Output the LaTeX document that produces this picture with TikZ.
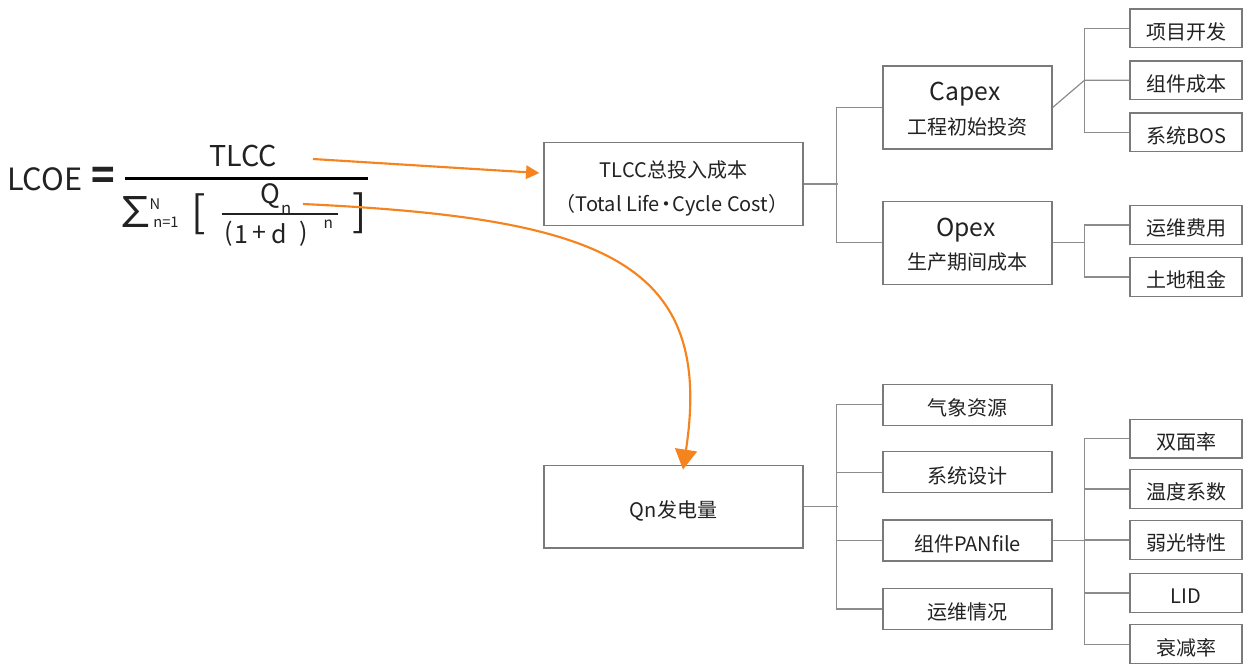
\documentclass[tikz,border=0pt]{standalone}
\usepackage{fontspec}
\setmainfont{Noto Sans CJK SC}
\usetikzlibrary{arrows.meta}
\definecolor{ink}{HTML}{222222}
\definecolor{boxline}{HTML}{7A7A7A}
\definecolor{wiregray}{HTML}{8C8C8C}
\definecolor{accent}{HTML}{F5841F}
\newcommand\fsz[1]{\fontsize{#1}{#1}\selectfont}
\begin{document}
\begin{tikzpicture}[x=0.75pt, y=-0.75pt,
  box/.style={draw=boxline, line width=0.9pt, inner sep=0pt, font=\fsz{15pt}, text=ink,
              text height=17.4pt, text depth=1pt},
  bigbox/.style={box, minimum width=194.25pt, minimum height=61.9pt},
  midbox/.style={box, minimum width=126.75pt, minimum height=62.25pt},
  lowbox/.style={box, minimum width=126.75pt, minimum height=30.75pt},
  leaf/.style={box, minimum width=84pt, minimum height=29pt},
  wire/.style={draw=wiregray, line width=0.9pt},
  lbl/.style={inner sep=0pt, anchor=base, text=ink},
  fm/.style={inner sep=0pt, anchor=base, text=ink},
  fmc/.style={inner sep=0pt, anchor=center, text=ink},
  flow/.style={draw=accent, line width=1.6pt},
]
\fill[white] (0,0) rectangle (1248,665);
\useasboundingbox (0,0) rectangle (1248,665);

% ---- formula ----
\node[fm, font=\fsz{23pt}] (lcoe) at (44.7,190) {LCOE};
\node[fmc, font=\fsz{29pt}\bfseries] (eq) at (103.5,178.5) {=};
\node[fm, font=\fsz{21.5pt}] (num) at (243.5,166) {TLCC};
\draw[black, line width=2.5pt] (125,178.3) -- (367.7,178.3);
\node[fmc, font=\fsz{32pt}] (sum) at (135.5,212.5) {\makebox[0.56em][c]{∑}};
\node[fm, font=\fsz{11pt}] (sumtop) at (155,209) {N};
\node[fm, font=\fsz{11pt}] (sumbot) at (166,227.5) {n=1};
\node[fmc, font=\fsz{32pt}] (lbr) at (198.7,214) {[};
\node[fmc, font=\fsz{32pt}] (rbr) at (360,213) {]};
\node[fm, font=\fsz{20pt}] (q) at (270,203.5) {Q};
\node[fm, font=\fsz{12.5pt}] (qsub) at (286.2,214) {n};
\draw[ink, line width=1.3pt] (221.7,214) -- (338.3,214);
\node[fmc, font=\fsz{18.75pt}] (lp) at (228.3,234.2) {(};
\node[fm, font=\fsz{18.75pt}] (one) at (241.2,243.3) {1};
\node[fmc, font=\fsz{18.75pt}] (plus) at (259.2,233.3) {+};
\node[fm, font=\fsz{18.75pt}] (dd) at (279.2,243.3) {d};
\node[fmc, font=\fsz{18.75pt}] (rp) at (303.3,234.2) {)};
\node[fm, font=\fsz{11.5pt}] (pw) at (328.3,228.3) {n};

% ---- cost branch ----
\node[bigbox] (tlcc) at (673.5,184) {};
\node[lbl, font=\fsz{15pt}] (tlcc1) at (673.5,177.7) {TLCC总投入成本};
\node[lbl, font=\fsz{15pt}] (tlcc2) at (672,211.7) {（Total Life\kern-0.18em·\kern-0.18em Cycle Cost）};

\node[midbox] (capex) at (967.5,107.5) {};
\node[lbl, font=\fsz{18.5pt}] (capex1) at (965,100.8) {Capex};
\node[lbl, font=\fsz{15pt}] (capex2) at (967.5,134) {工程初始投资};
\node[midbox] (opex) at (967.5,242.8) {};
\node[lbl, font=\fsz{18.5pt}] (opex1) at (966,236.5) {Opex};
\node[lbl, font=\fsz{15pt}] (opex2) at (967.5,269.8) {生产期间成本};

\node[leaf] (l1) at (1186,28.3) {项目开发};
\node[leaf] (l2) at (1186,80.3) {组件成本};
\node[leaf] (l3) at (1186,132.3) {系统BOS};
\node[leaf] (l4) at (1186,225) {运维费用};
\node[leaf] (l5) at (1186,277) {土地租金};

\draw[wire] (tlcc.east) -- ++(34,0);
\draw[wire] (capex.west) -- ++(-46,0) |- (opex.west);
\coordinate (cb) at ([shift={(-45,0)}]l2.west);
\draw[wire] (capex.east) -- (cb) -- (l2.west);
\draw[wire] (l1.west) -- ++(-45,0) |- (l3.west);
\draw[wire] (opex.east) -- (opex.east -| cb);
\draw[wire] (l4.west) -- ++(-45,0) |- (l5.west);

% ---- energy branch ----
\node[bigbox] (qn) at (673.5,506.7) {Qn发电量};
\node[lowbox] (m1) at (967.5,404.7) {气象资源};
\node[lowbox] (m2) at (967.5,472.2) {系统设计};
\node[lowbox] (m3) at (967.5,540.5) {组件PANfile};
\node[lowbox] (m4) at (967.5,609) {运维情况};
\node[leaf] (p1) at (1186,438.7) {双面率};
\node[leaf] (p2) at (1186,489) {温度系数};
\node[leaf] (p3) at (1186,540) {弱光特性};
\node[leaf] (p4) at (1186,593) {LID};
\node[leaf] (p5) at (1186,644.2) {衰减率};

\draw[wire] (qn.east) -- ++(34,0);
\draw[wire] (m1.west) -- ++(-46,0) |- (m4.west);
\draw[wire] (m2.west) -- ++(-46,0);
\draw[wire] (m3.west) -- ++(-46,0);
\draw[wire] (m3.east) -- ++(33,0);
\draw[wire] (p1.west) -- ++(-45,0) |- (p5.west);
\draw[wire] (p2.west) -- ++(-45,0);
\draw[wire] (p3.west) -- ++(-45,0);
\draw[wire] (p4.west) -- ++(-45,0);

% ---- flows from the formula ----
\coordinate (a1s) at (313,159);
\coordinate (a1e) at ([shift={(-4,-11)}]tlcc.west);
\draw[flow, -{Triangle[length=10pt,width=10pt]}] (a1s) -- (a1e);
\coordinate (a2s) at (303,204);
\coordinate (a2e) at ([shift={(9.5,4.7)}]qn.north);
\draw[flow, -{Triangle[length=15pt,width=16.5pt]}] (a2s) .. controls (600,218) and (715,260) .. (a2e);
\end{tikzpicture}
\end{document}
